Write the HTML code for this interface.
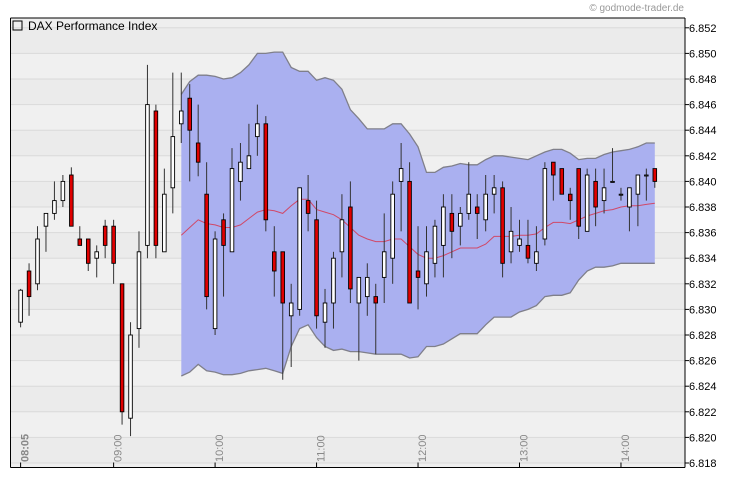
<!DOCTYPE html>
<html><head><meta charset="utf-8">
<style>
html,body{margin:0;padding:0;background:#fff;}
svg{display:block;font-family:"Liberation Sans",sans-serif;}
</style></head>
<body>
<svg id="chart" width="730" height="481" viewBox="0 0 730 481">
  <text x="684" y="11" font-size="10" fill="#999" text-anchor="end">© godmode-trader.de</text>
  <g id="bg"></g>
  <g id="grid"></g>
  <g id="band"></g>
  <g id="candles"></g>
  <g id="axes"></g>
  <rect x="13" y="21" width="9" height="9" fill="none" stroke="#000"/>
  <text x="28" y="30" font-size="12" fill="#000">DAX Performance Index</text>
</svg>
<script>
const opens  = [6.8290,6.8330,6.8320,6.8365,6.8375,6.8385,6.8405,6.8355,6.8355,6.8340,6.8365,6.8365,6.8320,6.8215,6.8285,6.8350,6.8455,6.8345,6.8395,6.8445,6.8465,6.8430,6.8390,6.8285,6.8370,6.8345,6.8400,6.8410,6.8435,6.8445,6.8345,6.8345,6.8295,6.8300,6.8385,6.8370,6.8290,6.8305,6.8345,6.8380,6.8305,6.8310,6.8310,6.8325,6.8340,6.8400,6.8400,6.8330,6.8320,6.8336,6.8350,6.8375,6.8365,6.8375,6.8380,6.8370,6.8390,6.8395,6.8345,6.8350,6.8350,6.8336,6.8355,6.8415,6.8410,6.8390,6.8410,6.8361,6.8400,6.8385,6.8400,6.8390,6.8380,6.8390,6.8405,6.8410];
const closes = [6.8315,6.8310,6.8355,6.8375,6.8385,6.8400,6.8365,6.8350,6.8336,6.8345,6.8350,6.8336,6.8220,6.8280,6.8345,6.8460,6.8350,6.8390,6.8435,6.8455,6.8440,6.8415,6.8310,6.8355,6.8350,6.8410,6.8415,6.8420,6.8445,6.8370,6.8330,6.8305,6.8305,6.8395,6.8375,6.8295,6.8305,6.8340,6.8370,6.8316,6.8325,6.8325,6.8305,6.8345,6.8390,6.8410,6.8305,6.8325,6.8345,6.8365,6.8380,6.8361,6.8375,6.8390,6.8375,6.8390,6.8395,6.8336,6.8361,6.8355,6.8340,6.8345,6.8410,6.8405,6.8390,6.8385,6.8365,6.8405,6.8380,6.8395,6.8400,6.8390,6.8395,6.8405,6.8405,6.8400];
const highs  = [6.8316,6.8336,6.8365,6.8375,6.8400,6.8405,6.8411,6.8365,6.8355,6.8350,6.8370,6.8370,6.8320,6.8290,6.8361,6.8491,6.8460,6.8410,6.8485,6.8485,6.8476,6.8460,6.8415,6.8361,6.8375,6.8426,6.8430,6.8445,6.8460,6.8451,6.8365,6.8345,6.8320,6.8395,6.8405,6.8385,6.8316,6.8345,6.8390,6.8400,6.8325,6.8336,6.8320,6.8375,6.8400,6.8430,6.8415,6.8365,6.8365,6.8370,6.8390,6.8390,6.8380,6.8415,6.8390,6.8405,6.8405,6.8400,6.8380,6.8370,6.8370,6.8365,6.8415,6.8415,6.8410,6.8395,6.8410,6.8410,6.8410,6.8410,6.8426,6.8395,6.8395,6.8405,6.8410,6.8410];
const lows   = [6.8286,6.8295,6.8315,6.8345,6.8370,6.8380,6.8365,6.8350,6.8330,6.8325,6.8340,6.8320,6.8210,6.8201,6.8270,6.8340,6.8340,6.8345,6.8375,6.8430,6.8400,6.8404,6.8300,6.8280,6.8310,6.8345,6.8385,6.8410,6.8420,6.8361,6.8310,6.8245,6.8255,6.8295,6.8361,6.8285,6.8270,6.8285,6.8325,6.8305,6.8260,6.8295,6.8265,6.8305,6.8320,6.8361,6.8305,6.8300,6.8310,6.8325,6.8325,6.8340,6.8350,6.8370,6.8355,6.8361,6.8375,6.8325,6.8336,6.8345,6.8336,6.8330,6.8350,6.8385,6.8390,6.8370,6.8355,6.8361,6.8365,6.8375,6.8400,6.8385,6.8361,6.8365,6.8385,6.8395];
const bandStart = 19;
const upperBand = [6.8468,6.8478,6.8483,6.8483,6.8482,6.8480,6.8481,6.8485,6.8491,6.8500,6.8500,6.8501,6.8501,6.8489,6.8486,6.8486,6.8479,6.8481,6.8479,6.8472,6.8456,6.8449,6.8441,6.8441,6.8441,6.8445,6.8445,6.8437,6.8427,6.8407,6.8407,6.8411,6.8412,6.8414,6.8413,6.8413,6.8417,6.8420,6.8420,6.8419,6.8418,6.8417,6.8420,6.8423,6.8425,6.8425,6.8422,6.8417,6.8418,6.8418,6.8421,6.8423,6.8424,6.8425,6.8427,6.8430,6.8430];
const lowerBand = [6.8248,6.8251,6.8257,6.8252,6.8251,6.8249,6.8249,6.8250,6.8252,6.8253,6.8254,6.8252,6.8250,6.8271,6.8285,6.8288,6.8278,6.8271,6.8268,6.8269,6.8267,6.8267,6.8266,6.8265,6.8265,6.8265,6.8265,6.8262,6.8263,6.8271,6.8271,6.8273,6.8277,6.8281,6.8281,6.8281,6.8288,6.8294,6.8294,6.8294,6.8298,6.8300,6.8303,6.8310,6.8311,6.8311,6.8313,6.8323,6.8330,6.8333,6.8333,6.8334,6.8336,6.8336,6.8336,6.8336,6.8336];
const midBand   = [6.8358,6.8364,6.8370,6.8367,6.8366,6.8364,6.8364,6.8366,6.8371,6.8376,6.8378,6.8377,6.8375,6.8381,6.8386,6.8386,6.8378,6.8376,6.8374,6.8370,6.8364,6.8358,6.8355,6.8353,6.8353,6.8355,6.8355,6.8349,6.8343,6.8340,6.8340,6.8342,6.8345,6.8348,6.8348,6.8348,6.8351,6.8357,6.8357,6.8357,6.8358,6.8358,6.8359,6.8364,6.8368,6.8368,6.8367,6.8370,6.8373,6.8375,6.8377,6.8378,6.8380,6.8381,6.8381,6.8382,6.8383];
const yTicks = ["6.818","6.820","6.822","6.824","6.826","6.828","6.830","6.832","6.834","6.836","6.838","6.840","6.842","6.844","6.846","6.848","6.850","6.852"];
const xTickIdx = [0,11,23,35,47,59,71];
const xTickLabels = ["08:05","09:00","10:00","11:00","12:00","13:00","14:00"];

const NS="http://www.w3.org/2000/svg";
const L=10.5,R=685,T=18,B=467.5;
const xOf=i=>20.6+i*8.456;
const yOf=v=>463-(v-6.818)/0.002*25.6;
function mk(tag,attrs,parent){const e=document.createElementNS(NS,tag);for(const k in attrs)e.setAttribute(k,attrs[k]);parent.appendChild(e);return e;}
const bg=document.getElementById('bg'),grid=document.getElementById('grid'),band=document.getElementById('band'),cg=document.getElementById('candles'),ax=document.getElementById('axes');

mk('rect',{x:L,y:T,width:R-L,height:B-T,fill:'#eeeeee'},bg);
for(let k=0;k<yTicks.length-1;k++){
  const v=parseFloat(yTicks[k]);
  if(k%2===0){const r=mk('rect',{x:L,y:yOf(v+0.002),width:R-L,height:25.6,fill:'#ebebeb'},bg);}
  else{const r=mk('rect',{x:L,y:yOf(v+0.002),width:R-L,height:25.6,fill:'#f0f0f0'},bg);}
}
yTicks.forEach((t,k)=>{
  const y=yOf(parseFloat(t));
  const g=mk('line',{x1:L,x2:R,y1:y,y2:y,stroke:'#dadada','stroke-width':1},grid);
  
  
  mk('line',{x1:R,x2:R+4,y1:y,y2:y,stroke:'#000'},ax);
  const tx=mk('text',{x:R+4,y:y+4,'font-size':11,fill:'#000'},ax);
  tx.textContent=t;
  
  
});

// band
let up=[],lo=[],md=[];
for(let j=0;j<upperBand.length;j++){
  const x=xOf(bandStart+j);
  up.push(x.toFixed(1)+','+yOf(upperBand[j]).toFixed(1));
  lo.push(x.toFixed(1)+','+yOf(lowerBand[j]).toFixed(1));
  md.push(x.toFixed(1)+','+yOf(midBand[j]).toFixed(1));
}
const fill=mk('polygon',{points:up.concat(lo.slice().reverse()).join(' '),fill:'#aab0f0',stroke:'none'},band);


const ul=mk('polyline',{points:up.join(' '),fill:'none',stroke:'#7f7f8a','stroke-width':1.3},band);


const ll=mk('polyline',{points:lo.join(' '),fill:'none',stroke:'#7f7f8a','stroke-width':1.3},band);


const ml=mk('polyline',{points:md.join(' '),fill:'none',stroke:'#d04868','stroke-width':1},band);



// candles
for(let i=0;i<opens.length;i++){
  const x=xOf(i);
  const g=mk('g',{},cg);
  
  
  mk('line',{x1:x,x2:x,y1:yOf(highs[i]),y2:yOf(lows[i]),stroke:'#333','stroke-width':1},g);
  const top=yOf(Math.max(opens[i],closes[i])),bot=yOf(Math.min(opens[i],closes[i]));
  const up=closes[i]>=opens[i];
  mk('rect',{x:x-1.8,y:top,width:3.6,height:Math.max(bot-top,1),fill:up?'#fff':'#e00000',stroke:'#000','stroke-width':0.9},g);
}

// frame
mk('line',{x1:L,x2:L,y1:T,y2:B,stroke:'#000'},ax);
mk('line',{x1:L,x2:R,y1:T,y2:T,stroke:'#000'},ax);
mk('line',{x1:L,x2:R,y1:B,y2:B,stroke:'#000'},ax);
mk('line',{x1:R,x2:R,y1:T,y2:B,stroke:'#000'},ax);
xTickIdx.forEach((idx,k)=>{
  const x=xOf(idx);
  mk('line',{x1:x,x2:x,y1:B-5,y2:B,stroke:'#000'},ax);
  const t=mk('text',{x:0,y:0,'font-size':11,fill:'#888','font-weight':k===0?'bold':'normal','text-anchor':'start',transform:'translate('+(x+8)+',462) rotate(-90)'},ax);
  t.textContent=xTickLabels[k];
  
  
});
</script>
</body></html>
